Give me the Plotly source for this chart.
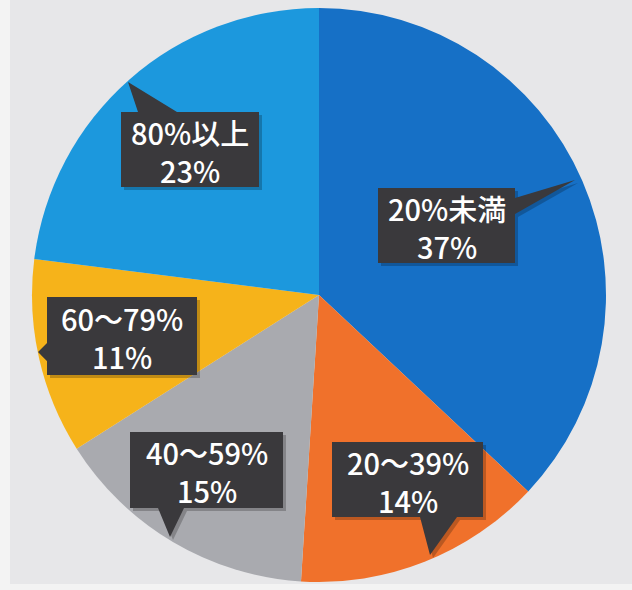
import plotly.graph_objects as go

# Share of respondents by band
categories = ["20%未満", "20～39%", "40～59%", "60～79%", "80%以上"]
values = [37, 14, 15, 11, 23]
colors = ["#1670c6", "#f0712b", "#a9aaaf", "#f6b31a", "#1c98dd"]

W, H = 632, 590

def px(x, y):
    return x / W, 1 - y / H

# Callout boxes in pixel space: (left, top, right, bottom) and pointer polygon
callouts = {
    "80%以上": dict(box=(121, 112, 259, 187), tip=[(138, 112), (128, 82), (177, 112)]),
    "20%未満": dict(box=(378, 188, 515, 263), tip=[(515, 198), (575, 180), (515, 214)]),
    "60～79%": dict(box=(47, 297, 197, 375), tip=[(47, 343), (38, 352), (47, 361)]),
    "40～59%": dict(box=(130, 432, 283, 508), tip=[(158, 508), (170, 537), (184, 508)]),
    "20～39%": dict(box=(332, 442, 483, 517), tip=[(420, 517), (430, 555), (457, 517)]),
}

fig = go.Figure(
    go.Pie(
        labels=categories,
        values=values,
        sort=False,
        direction="clockwise",
        rotation=0,
        marker=dict(colors=colors, line=dict(width=0)),
        textinfo="none",
        hoverinfo="label+percent",
        showlegend=False,
        domain=dict(x=[31 / W, 607 / W], y=[8 / H, 582 / H]),
    )
)

shapes = [
    # panel behind the pie
    dict(type="rect", xref="paper", yref="paper", x0=10 / W, x1=1, y0=1 - 584 / H, y1=1,
         fillcolor="#e7e7e9", line=dict(width=0), layer="below"),
]
annotations = []

def callout_path(box, tip, dx=0, dy=0):
    l, t, r, b = box
    pts = [(l, t), (r, t), (r, b), (l, b)]
    rect = "M" + " L".join(f"{px(x + dx, y + dy)[0]},{px(x + dx, y + dy)[1]}" for x, y in pts) + " Z"
    tri = "M" + " L".join(f"{px(x + dx, y + dy)[0]},{px(x + dx, y + dy)[1]}" for x, y in tip) + " Z"
    return rect + " " + tri

for cat, val in zip(categories, values):
    c = callouts[cat]
    # soft drop shadow
    shapes.append(dict(type="path", xref="paper", yref="paper", path=callout_path(c["box"], c["tip"], 3, 3),
                       fillcolor="rgba(0,0,0,0.22)", line=dict(width=0), layer="above"))
    shapes.append(dict(type="path", xref="paper", yref="paper", path=callout_path(c["box"], c["tip"]),
                       fillcolor="#3a393c", line=dict(width=0), layer="above"))
    l, t, r, b = c["box"]
    x, y = px((l + r) / 2, (t + b) / 2 + 1)
    annotations.append(dict(x=x, y=y, xref="paper", yref="paper", text=f"{cat}<br>{val}%",
                            showarrow=False, xanchor="center", yanchor="middle", align="center",
                            font=dict(family="Noto Sans CJK JP", size=29, color="white", weight=500)))

fig.update_layout(
    width=W, height=H,
    margin=dict(l=0, r=0, t=0, b=0),
    paper_bgcolor="#f3f3f3",
    shapes=shapes,
    annotations=annotations,
)

fig.write_html("out.html")
